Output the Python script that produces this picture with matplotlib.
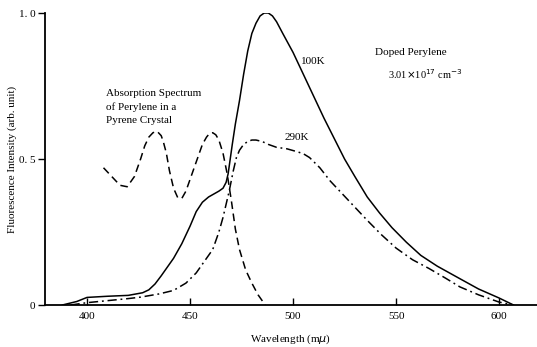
import numpy as np
import matplotlib
matplotlib.use("Agg")
import matplotlib.pyplot as plt

plt.rcParams['font.family'] = ['Liberation Serif', 'DejaVu Serif']

# 100K fluorescence (solid)
wl_100k = [388, 395, 400, 410, 420, 427, 430, 433, 436, 439, 442, 446, 450, 453,
           456, 459, 462, 464, 466, 467.5, 468.5, 469.5, 470.5, 472, 474, 476,
           478, 480, 482, 484, 486, 488, 490, 492, 495, 500, 505, 510, 515, 520,
           525, 530, 536, 542, 548, 555, 562, 570, 581, 590, 600, 607]
int_100k = [0, 0.012, 0.026, 0.030, 0.033, 0.042, 0.052, 0.072, 0.10, 0.13, 0.16,
            0.21, 0.27, 0.32, 0.352, 0.37, 0.382, 0.39, 0.40, 0.42, 0.45, 0.50,
            0.55, 0.62, 0.70, 0.79, 0.87, 0.93, 0.965, 0.99, 1.0, 1.0, 0.99,
            0.97, 0.93, 0.865, 0.79, 0.715, 0.64, 0.57, 0.50, 0.44, 0.37, 0.315,
            0.265, 0.215, 0.17, 0.133, 0.09, 0.055, 0.024, 0]

# 290K fluorescence (dash-dot)
wl_290k = [392, 400, 410, 420, 426, 435, 442, 448, 453, 457, 461, 464, 466, 469,
           471, 472.5, 474, 476, 478, 480, 482, 485, 488, 492, 497, 502, 505,
           508, 513, 518, 524, 530, 536, 543, 550, 558, 566, 574, 581, 590, 600, 607]
int_290k = [0, 0.008, 0.015, 0.022, 0.027, 0.038, 0.05, 0.075, 0.11, 0.15, 0.19,
            0.25, 0.30, 0.39, 0.46, 0.505, 0.53, 0.55, 0.56, 0.565, 0.565, 0.56,
            0.55, 0.54, 0.535, 0.525, 0.518, 0.505, 0.47, 0.425, 0.38, 0.335,
            0.29, 0.24, 0.195, 0.155, 0.125, 0.092, 0.062, 0.035, 0.01, 0]

# absorption spectrum (dashed)
wl_abs = [408, 412, 416, 419.5, 423, 426, 428, 430, 432, 434, 436, 437, 438.5,
          440, 442, 444, 446, 448, 450, 453, 456, 458, 459.5, 461, 462.5, 464,
          466, 468, 470, 472, 474, 477, 480, 483, 486.5]
int_abs = [0.47, 0.44, 0.41, 0.405, 0.44, 0.50, 0.545, 0.575, 0.59, 0.595, 0.58,
           0.56, 0.52, 0.46, 0.40, 0.368, 0.365, 0.39, 0.43, 0.49, 0.55, 0.575,
           0.588, 0.59, 0.583, 0.565, 0.52, 0.45, 0.36, 0.26, 0.19, 0.12, 0.075,
           0.035, 0]

xticks = [400, 450, 500, 550, 600]
yticks = [0, 0.5, 1.0]
ylabels = ["0", "0. 5", "1. 0"]

fig = plt.figure(figsize=(5.37, 3.47), dpi=100)
ax = fig.add_axes([0.0838, 0.121, 0.9162, 0.8415])

ax.plot(wl_100k, int_100k, color='k', lw=1.1)
ax.plot(wl_290k, int_290k, color='k', lw=1.1, dashes=(6, 2.5, 1.2, 2.5))
ax.plot(wl_abs, int_abs, color='k', lw=1.1, dashes=(5, 3))

ax.set_xlim(379.6, 618.4)
ax.set_ylim(0, 1.0)
ax.set_xticks(xticks)
ax.set_yticks(yticks)
ax.set_yticklabels(ylabels)
ax.tick_params(axis='x', direction='in', length=5, width=1, labelsize=8, pad=5)
ax.tick_params(axis='y', direction='out', length=5, width=1, labelsize=8, pad=2)
for s in ['top', 'right']:
    ax.spines[s].set_visible(False)
for s in ['left', 'bottom']:
    ax.spines[s].set_linewidth(1.3)

ax.set_xlabel("Wavelength (m$\\mu$)", fontsize=8, labelpad=8)
fig.text(0.022, 0.54, "Fluorescence Intensity (arb. unit)", fontsize=8,
         rotation=90, ha='center', va='center')

ax.text(409, 0.74, "Absorption Spectrum\nof Perylene in a\nPyrene Crystal",
        fontsize=8, va='top', ha='left', linespacing=1.55)
ax.text(504, 0.835, "100K", fontsize=8, va='center')
ax.text(496, 0.575, "290K", fontsize=8, va='center')
ax.text(540, 0.865, "Doped Perylene", fontsize=8, va='center')
ax.text(546, 0.79, "3.01$\\times$10$^{17}$ cm$^{-3}$", fontsize=7.5, va='center')

fig.savefig("out.png", dpi=100)
